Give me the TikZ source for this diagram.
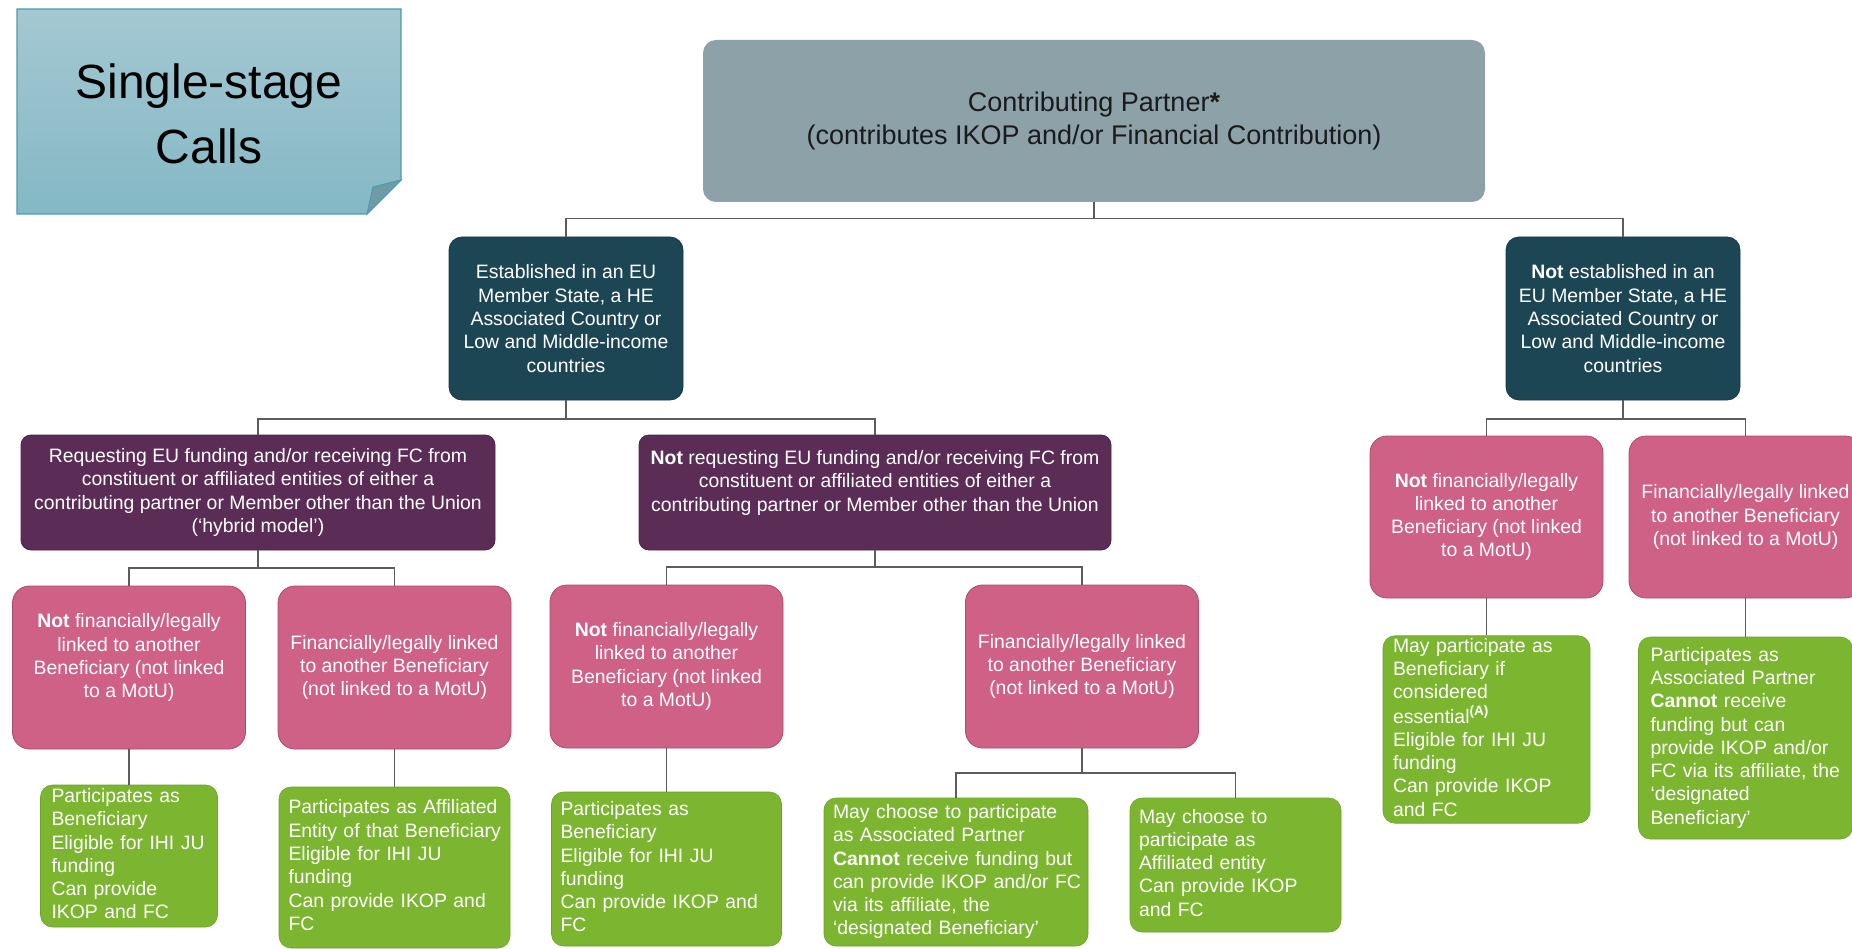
\documentclass[tikz,border=0pt]{standalone}
\usepackage{fontspec}
\setmainfont{Liberation Sans}
\definecolor{cpfill}{HTML}{8DA1A8}
\definecolor{cptext}{HTML}{1A1A1A}
\definecolor{tealfill}{HTML}{1D4654}
\definecolor{tealdraw}{HTML}{163843}
\definecolor{purfill}{HTML}{5B2D56}
\definecolor{purdraw}{HTML}{4A2246}
\definecolor{pinkfill}{HTML}{CF6086}
\definecolor{pinkdraw}{HTML}{A94A70}
\definecolor{greenfill}{HTML}{7CB630}
\definecolor{greendraw}{HTML}{6AA22A}
\definecolor{notetop}{HTML}{A4C8D2}
\definecolor{notebot}{HTML}{84B8C5}
\definecolor{notedraw}{HTML}{4C9CAB}
\definecolor{notefold}{HTML}{6F9BA5}
\definecolor{linegray}{HTML}{5C5C5C}
\newcommand\fsmain{\fontsize{19.4}{23.3}\selectfont}
\newcommand\fstop{\fontsize{27}{32.4}\selectfont}
\newcommand\fsnote{\fontsize{48}{65}\selectfont}
\newcommand\gtab[1]{\begin{tabular}{@{}l@{}}#1\end{tabular}}
\tikzset{
  basebox/.style={inner sep=0pt, align=center, font=\fsmain, text=white},
  cpbox/.style={basebox, fill=cpfill, rounded corners=13pt, minimum width=782pt, minimum height=162pt, font=\fstop, text=cptext},
  tealbox/.style={basebox, fill=tealfill, draw=tealdraw, line width=0.8pt, rounded corners=13pt, minimum width=234pt, minimum height=163pt},
  purbox/.style={basebox, fill=purfill, draw=purdraw, line width=0.8pt, rounded corners=10pt, minimum height=115pt},
  pinkbox/.style={basebox, fill=pinkfill, draw=pinkdraw, line width=0.8pt, rounded corners=17pt, minimum width=233pt, minimum height=163pt},
  greenbox/.style={basebox, align=left, fill=greenfill, draw=greendraw, line width=0.6pt, rounded corners=12pt, inner ysep=0pt},
  conn/.style={draw=linegray, line width=1.2pt},
}
\begin{document}
\begin{tikzpicture}[x=1pt,y=-1pt]
\useasboundingbox (0,0) rectangle (1852,949);
\clip (0,0) rectangle (1852,949);
% sticky note
\path[top color=notetop, bottom color=notebot, draw=notedraw, line width=1.2pt]
  (17,9) -- (401,9) -- (401,180) -- (367,214) -- (17,214) -- cycle;
\path[fill=notefold, draw=notedraw, line width=1pt] (367,214) -- (373,187) -- (401,180) -- cycle;
\node[font=\fsnote, align=center, inner sep=0pt] (title) at (209,113.5) {Single-stage\\Calls};

% level 0
\node[cpbox] (cp) at (1094,121) {Contributing Partner\textbf{*}\\(contributes IKOP and/or Financial Contribution)};

% level 1
\node[tealbox] (eu) at (566,318.5) {Established in an EU\\Member State, a HE\\Associated Country or\\Low and Middle-income\\countries};
\node[tealbox] (neu) at (1623,318.5) {\textbf{Not} established in an\\EU Member State, a HE\\Associated Country or\\Low and Middle-income\\countries};

% level 2
\node[purbox, minimum width=474pt] (pur1) at (258,492.5) {Requesting EU funding and/or receiving FC from\\constituent or affiliated entities of either a\\contributing partner or Member other than the Union\\(‘hybrid model’)};
\node[purbox, minimum width=472pt] (pur2) at (875,492.5) {\textbf{Not} requesting EU funding and/or receiving FC from\\constituent or affiliated entities of either a\\contributing partner or Member other than the Union\\\mbox{}};
\node[pinkbox, minimum height=162pt] (pinkE) at (1486.5,517) {\textbf{Not} financially/legally\\linked to another\\Beneficiary (not linked\\to a MotU)};
\node[pinkbox, minimum height=162pt] (pinkF) at (1745.5,517) {Financially/legally linked\\to another Beneficiary\\(not linked to a MotU)};

% level 3
\node[pinkbox] (pinkA) at (129,667.5) {\textbf{Not} financially/legally\\linked to another\\Beneficiary (not linked\\to a MotU)\\\mbox{}};
\node[pinkbox] (pinkB) at (394.5,667.5) {Financially/legally linked\\to another Beneficiary\\(not linked to a MotU)};
\node[pinkbox] (pinkC) at (666.5,666.5) {\textbf{Not} financially/legally\\linked to another\\Beneficiary (not linked\\to a MotU)};
\node[pinkbox] (pinkD) at (1082,666.5) {Financially/legally linked\\to another Beneficiary\\(not linked to a MotU)};

% green outcomes
\node[greenbox, text width=155pt, inner xsep=11pt, minimum height=142pt] (gA) at (129,856) {\gtab{Participates as\\Beneficiary\\Eligible for IHI JU\\funding\\Can provide\\IKOP and FC}};
\node[greenbox, text width=212pt, inner xsep=9.5pt, minimum height=161pt] (gB) at (394.5,867.5) {\gtab{Participates as Affiliated\\Entity of that Beneficiary\\Eligible for IHI JU\\funding\\Can provide IKOP and\\FC}};
\node[greenbox, text width=212pt, inner xsep=9pt, minimum height=154pt] (gC) at (666.5,869) {\gtab{Participates as\\Beneficiary\\Eligible for IHI JU\\funding\\Can provide IKOP and\\FC}};
\node[greenbox, text width=246pt, inner xsep=9pt, minimum height=148pt] (gD) at (956,872) {\gtab{May choose to participate\\as Associated Partner\\\textbf{Cannot} receive funding but\\can provide IKOP and/or FC\\via its affiliate, the\\‘designated Beneficiary’}};
\node[greenbox, text width=193pt, inner xsep=9pt, minimum height=134pt] (gE) at (1235.5,865) {\gtab{May choose to\\participate as\\Affiliated entity\\Can provide IKOP\\and FC}};
\node[greenbox, text width=187pt, inner xsep=10pt, minimum height=185pt] (gF) at (1486.5,729.5) {\gtab{May participate as\\Beneficiary if\\considered\\essential\textsuperscript{\textbf{(A)}}\\Eligible for IHI JU\\funding\\Can provide IKOP\\and FC}};
\node[greenbox, text width=190pt, inner xsep=12pt, minimum height=202pt] (gG) at (1745.5,738) {\gtab{Participates as\\Associated Partner\\\textbf{Cannot} receive\\funding but can\\provide IKOP and/or\\FC via its affiliate, the\\‘designated\\Beneficiary’}};

% junctions
\coordinate (j0) at (1094,218.5);
\coordinate (j1) at (566,419);
\coordinate (j2) at (1623,419);
\coordinate (j3) at (258,568);
\coordinate (j4) at (875,567);
\coordinate (j5) at (1082,773);

% connectors
\draw[conn] (cp.south) -- (j0);
\draw[conn] (j0) -| (eu.north);
\draw[conn] (j0) -| (neu.north);
\draw[conn] (eu.south) -- (j1);
\draw[conn] (j1) -| (pur1.north);
\draw[conn] (j1) -| (pur2.north);
\draw[conn] (neu.south) -- (j2);
\draw[conn] (j2) -| (pinkE.north);
\draw[conn] (j2) -| (pinkF.north);
\draw[conn] (pur1.south) -- (j3);
\draw[conn] (j3) -| (pinkA.north);
\draw[conn] (j3) -| (pinkB.north);
\draw[conn] (pur2.south) -- (j4);
\draw[conn] (j4) -| (pinkC.north);
\draw[conn] (j4) -| (pinkD.north);
\draw[conn] (pinkA.south) -- (gA.north);
\draw[conn] (pinkB.south) -- (gB.north);
\draw[conn] (pinkC.south) -- (gC.north);
\draw[conn] (pinkD.south) -- (j5);
\draw[conn] (j5) -| (gD.north);
\draw[conn] (j5) -| (gE.north);
\draw[conn] (pinkE.south) -- (gF.north);
\draw[conn] (pinkF.south) -- (gG.north);
\end{tikzpicture}
\end{document}
